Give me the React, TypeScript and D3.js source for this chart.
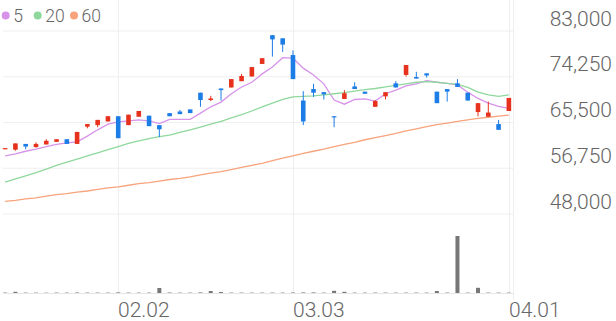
import React from "react";
import * as d3 from "d3";

const categories = d3.range(50);
const open = [60400,60300,61400,60800,61300,61800,62300,61400,64700,65000,65700,66700,65000,66600,66800,65000,67300,67600,68000,71200,69800,72000,72200,73400,74300,76700,82200,81600,78400,69700,71900,71300,66700,70000,72400,71400,68500,70500,73000,74600,74200,74900,71400,71900,73000,71200,67500,66600,65200,67700];
const high = [60600,61500,61400,61700,62300,62300,62300,63700,65200,66000,66700,66700,67000,67700,66800,65000,67300,67900,68000,71200,70600,72000,73800,74800,76100,77800,82200,81600,79300,71500,72900,71300,66700,71700,73200,71400,69800,71300,73400,76500,75200,74900,71400,71900,73800,71200,69200,69500,66000,70200];
const low = [60400,60100,60400,60700,61300,61800,61400,61400,64400,64600,65700,62500,65000,66600,64800,62700,66700,67100,67300,68500,69600,69700,72200,73400,74300,76700,78100,79000,73800,65000,70400,69900,64600,70000,71900,71000,68500,69900,72200,74300,73900,74100,69200,69500,72300,69700,66700,66600,64100,67700];
const close = [60600,61500,60900,61400,62000,62300,61400,63700,65200,66000,66700,62500,67000,67700,64800,64200,66700,67100,67300,69800,70100,71700,73800,74400,76100,77800,81400,80400,73800,65700,71200,70900,66500,71100,71900,71000,69600,71300,72200,76500,73900,74500,69200,71400,72300,69700,69200,67400,64100,70200];
const ma5 = [59100,59500,60000,60400,60900,61300,61600,61800,62900,64100,65200,65600,65800,66000,65800,65300,66100,66100,66100,67300,68500,69400,71000,72300,73200,74800,76100,77900,77800,75900,74600,72900,69800,69000,69900,70000,69600,71000,71700,72500,72900,73500,73200,73000,72700,71300,70100,69200,68600,68200];
const ma20 = [54100,54700,55300,55900,56600,57300,57900,58500,59100,59700,60300,60900,61500,62000,62400,62800,63100,63600,64100,64600,65200,65700,66400,67000,67700,68500,69200,69900,70400,70500,70600,70800,71000,71200,71500,71800,72000,72300,72600,72900,73200,73300,73200,73000,72800,72200,71300,70800,70500,70800];
const ma60 = [50400,50600,50900,51100,51400,51700,51900,52200,52400,52700,53000,53200,53500,53800,54000,54300,54600,54800,55100,55500,55800,56100,56500,56900,57300,57700,58200,58700,59100,59600,60000,60400,60900,61300,61700,62200,62600,63000,63400,63900,64300,64700,65100,65400,65700,66000,66300,66500,66700,66900];
const volume = [40,120,40,40,30,40,40,50,40,40,40,60,40,40,40,500,50,40,40,60,200,100,40,40,40,40,40,40,50,60,60,40,220,120,40,40,40,40,40,40,40,40,200,40,5700,40,520,40,40,40];
const yTickValues = [48000, 56750, 65500, 74250, 83000];
const xTickLabels = ["02.02", "03.03", "04.01"];
const xTickIndex = [11, 28, 49];
const legendLabels = ["5", "20", "60"];

const UP = "#e6321d";
const DOWN = "#1d7de6";
const MA_COLORS = ["#d793ea", "#8fd89d", "#f8a37c"];
const GRID = "#efefef";
const TEXT = "#666";

export default function App() {
  const W = 616, H = 321;
  const x = d3.scaleBand<number>().domain(categories).range([0, 514]).padding(0);
  const bw = x.bandwidth();
  const cx = (i: number) => (x(i) as number) + bw / 2;
  const y = d3.scaleLinear().domain([48000, 83000]).range([214, 31]);
  const yVol = d3.scaleLinear().domain([0, 5700]).range([293, 236]);
  const fmt = d3.format(",");
  const line = d3.line<number>().x((_, i) => cx(i)).y((d) => y(d));
  const mas = [ma5, ma20, ma60];
  const bodyW = 4.6;
  const font = "Roboto, 'Noto Sans', sans-serif";

  return (
    <div>
      <style>{`body{margin:0}`}</style>
      <svg width={W} height={H} style={{ display: "block", background: "#fff" }}>
        {yTickValues.map((v) => (
          <line key={v} x1={3} x2={514} y1={y(v)} y2={y(v)} stroke={GRID} strokeWidth={1} />
        ))}
        {xTickIndex.map((i) => (
          <line key={i} x1={Math.round(cx(i)) + 0.5} x2={Math.round(cx(i)) + 0.5} y1={0} y2={293} stroke={GRID} strokeWidth={1} />
        ))}
        <line x1={513.5} x2={513.5} y1={0} y2={300} stroke={GRID} strokeWidth={1} />
        <line x1={3} x2={514} y1={293.5} y2={293.5} stroke="#e6e6e6" strokeWidth={1} />

        {yTickValues.map((v) => (
          <text key={v} x={612} y={y(v) - 5.5} textAnchor="end" fontFamily={font} fontWeight={300} fontSize={21} fill={TEXT}>
            {fmt(v)}
          </text>
        ))}
        {xTickIndex.map((idx, k) => (
          <text key={idx} x={Math.round(cx(idx))} y={317} textAnchor="start" fontFamily={font} fontWeight={300} fontSize={21} fill={TEXT}>
            {xTickLabels[k]}
          </text>
        ))}

        {volume.map((v, i) => (
          <rect key={i} x={cx(i) - 2} width={4} y={yVol(v)} height={293 - yVol(v)} fill="#777" />
        ))}

        {mas.map((m, k) => (
          <path key={k} d={line(m) as string} fill="none" stroke={MA_COLORS[k]} strokeWidth={1.3} />
        ))}

        {categories.map((i) => {
          const up = close[i] >= open[i];
          const c = up ? UP : DOWN;
          const top = y(Math.max(open[i], close[i]));
          const bot = y(Math.min(open[i], close[i]));
          return (
            <g key={i}>
              <line x1={cx(i)} x2={cx(i)} y1={y(high[i])} y2={y(low[i])} stroke={c} strokeWidth={1} />
              <rect x={cx(i) - bodyW / 2} width={bodyW} y={top} height={Math.max(1.2, bot - top)} fill={c} />
            </g>
          );
        })}

        {legendLabels.map((l, k) => {
          const lx = [5.7, 37.7, 74][k];
          return (
            <g key={l}>
              <circle cx={lx} cy={15.5} r={4} fill={MA_COLORS[k]} />
              <text x={lx + 7.5} y={21.5} fontFamily={font} fontSize={17.5} fontWeight={300} fill={TEXT}>{l}</text>
            </g>
          );
        })}
      </svg>
    </div>
  );
}
